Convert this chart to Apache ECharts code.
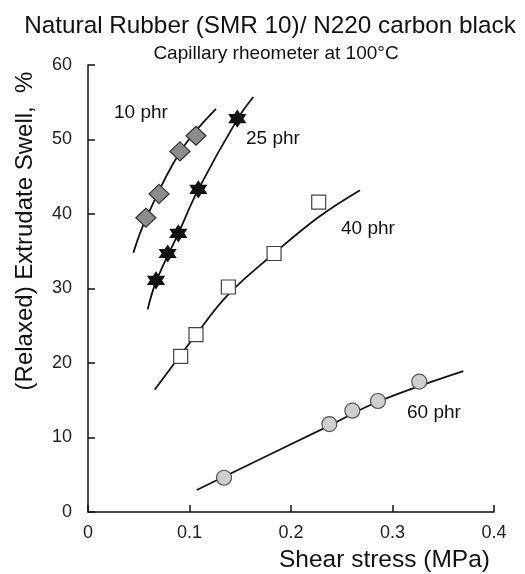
<!DOCTYPE html>
<html><head><meta charset="utf-8">
<script src="https://cdn.jsdelivr.net/npm/echarts@6/dist/echarts.min.js"></script>
<style>html,body{margin:0;padding:0;background:#fff}#c{width:525px;height:574px}</style>
</head><body><div id="c"></div>
<script>
// Measured data points [shear stress MPa, swell %]
const phr10 = [[0.057,39.5],[0.070,42.7],[0.0906,48.4],[0.1064,50.5]];
const phr25 = [[0.067,31.1],[0.0785,34.7],[0.089,37.4],[0.1087,43.3],[0.1471,52.8]];
const phr40 = [[0.0913,20.9],[0.1064,23.8],[0.1383,30.2],[0.1833,34.7],[0.2273,41.6]];
const phr60 = [[0.134,4.6],[0.2378,11.8],[0.2604,13.6],[0.2857,14.9],[0.3264,17.5]];
// Fitted curves
const fit10 = [[0.0447,34.8],[0.057,39.3],[0.0906,48.3],[0.1261,54.1]];
const fit25 = [[0.0588,27.2],[0.067,30.9],[0.089,37.4],[0.1087,43.3],[0.1471,52.7],[0.1629,55.7]];
const fit40 = [[0.0657,16.4],[0.1064,23.8],[0.1383,29.2],[0.1833,34.7],[0.2273,39.6],[0.268,43.2]];
const fit60 = [[0.1071,2.95],[0.2378,11.6],[0.2857,14.8],[0.3698,18.9]];
const seriesLabels = ['10 phr','25 phr','40 phr','60 phr'];
const xTicks = [0,0.1,0.2,0.3,0.4];
const yTicks = [0,10,20,30,40,50,60];

const star = 'path://M0,-10 L2.885,-5 L8.66,-5 L5.77,0 L8.66,5 L2.885,5 L0,10 L-2.885,5 L-8.66,5 L-5.77,0 L-8.66,-5 L-2.885,-5 Z';
const F = 'Liberation Sans, Arial, sans-serif';
const chart = echarts.init(document.getElementById('c'), null, {renderer:'canvas'});
function fitSeries(d){return {type:'line',data:d,smooth:0.4,symbol:'none',lineStyle:{color:'#111',width:1.8},z:2,silent:true};}
function pts(d,sym,size,fill,border){return {type:'scatter',data:d,symbol:sym,symbolSize:size,itemStyle:{color:fill,borderColor:border,borderWidth:1.2,opacity:1},z:5};}
chart.setOption({
  animation:false,
  title:[
    {text:'Natural Rubber (SMR 10)/ N220 carbon black',left:265,top:9,textAlign:'center',textStyle:{fontFamily:F,fontSize:24.3,fontWeight:'normal',color:'#111'}},
    {text:'Capillary rheometer at 100°C',left:271,top:39,textAlign:'center',textStyle:{fontFamily:F,fontSize:19,fontWeight:'normal',color:'#111'}}
  ],
  grid:{left:88,right:31,top:65,bottom:62,containLabel:false},
  xAxis:{type:'value',min:0,max:0.4,interval:0.1,
    name:'Shear stress (MPa)',nameLocation:'end',nameGap:0,
    nameTextStyle:{fontFamily:F,fontSize:24.5,color:'#111',align:'right',verticalAlign:'top',padding:[36,4,0,0]},
    axisLine:{lineStyle:{color:'#111',width:1.5}},
    axisTick:{inside:true,length:7,lineStyle:{color:'#111',width:1.5}},
    axisLabel:{fontFamily:F,fontSize:18,color:'#222',margin:12,formatter:v=>String(v)},
    splitLine:{show:false}},
  yAxis:{type:'value',min:0,max:60,interval:10,
    axisLine:{show:true,lineStyle:{color:'#111',width:1.5}},
    axisTick:{show:true,inside:true,length:7,lineStyle:{color:'#111',width:1.5}},
    axisLabel:{fontFamily:F,fontSize:18,color:'#222',margin:16},
    splitLine:{show:false}},
  series:[
    fitSeries(fit10),fitSeries(fit25),fitSeries(fit40),fitSeries(fit60),
    pts(phr10,'diamond',[20,19],'#8c8c8c','#333'),
    pts(phr25,star,16,'#111','#111'),
    pts(phr40,'rect',14,'#fff','#444'),
    pts(phr60,'circle',15,'#cfcfcf','#555')
  ],
  graphic:[
    {type:'text',x:25,y:231,rotation:Math.PI/2,style:{text:'(Relaxed) Extrudate Swell,  %',font:'24px '+F,fill:'#111',align:'center',verticalAlign:'middle'}},
    {type:'text',left:114,top:103,style:{text:seriesLabels[0],font:'19px '+F,fill:'#111'}},
    {type:'text',left:246,top:129,style:{text:seriesLabels[1],font:'19px '+F,fill:'#111'}},
    {type:'text',left:341,top:219,style:{text:seriesLabels[2],font:'19px '+F,fill:'#111'}},
    {type:'text',left:407,top:403,style:{text:seriesLabels[3],font:'19px '+F,fill:'#111'}}
  ]
});
</script></body></html>
